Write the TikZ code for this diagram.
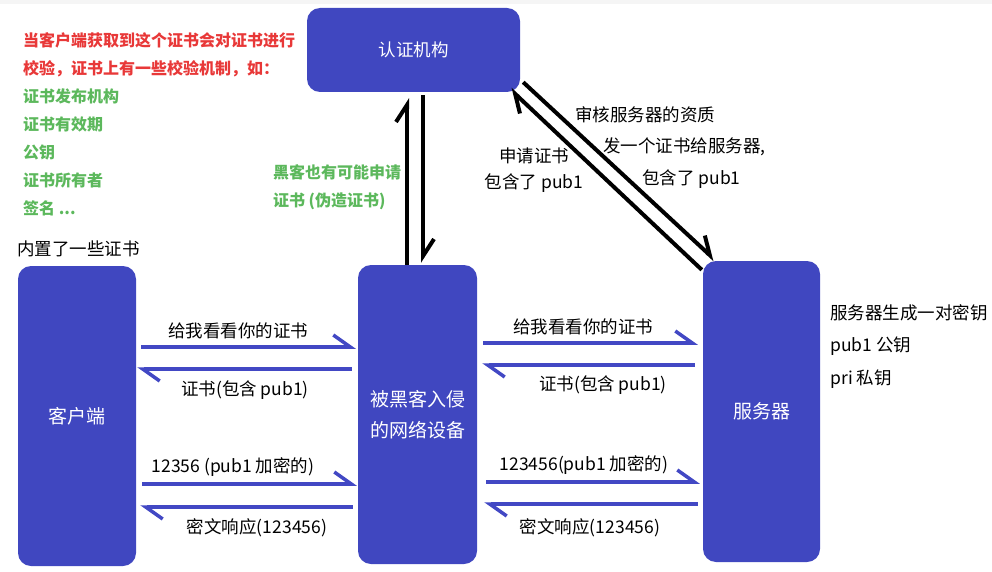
\documentclass[tikz,border=0pt]{standalone}
\usepackage{fontspec}
\setmainfont{Noto Sans CJK SC}
\usetikzlibrary{arrows.meta,positioning,calc}
\definecolor{boxblue}{RGB}{64,71,192}
\definecolor{msgblue}{RGB}{66,72,196}
\definecolor{notered}{RGB}{232,56,56}
\definecolor{notegreen}{RGB}{92,184,92}

\begin{document}
\begin{tikzpicture}[x=1pt, y=-1pt,
  box/.style={fill=boxblue, rounded corners=13pt, text=white, align=center,
    font=\fontsize{19}{31}\selectfont},
  msg/.style={-{Straight Barb[harpoon, length=17pt, width=24pt]}, line width=3.5pt, msgblue},
  cert/.style={-{Straight Barb[harpoon, length=17pt, width=22pt]}, line width=4pt},
  lbl/.style={font=\fontsize{17.5}{26}\selectfont, inner sep=0pt, text=black},
  hint/.style={font=\fontsize{16}{28}\selectfont\bfseries, inner sep=0pt, align=left}
]
\useasboundingbox (0,0) rectangle (992,572);
\fill[gray!8] (0,0) rectangle (992,4);

\node[box, minimum width=118pt, minimum height=300pt] (client) at (77,416) {客户端};
\node[box, minimum width=119pt, minimum height=299pt] (device) at (417.5,414.5) {被黑客入侵\\的网络设备};
\node[box, minimum width=117pt, minimum height=301pt] (server) at (761.5,411.5) {服务器};
\node[box, minimum width=213pt, minimum height=84pt,
  font=\fontsize{17.5}{21}\selectfont] (ca) at (413.5,50) {认证机构};

% notes
\node[hint, anchor=north west] (check) at (23,32) {\textcolor{notered}{当客户端获取到这个证书会对证书进行}\\
  \textcolor{notered}{校验，证书上有一些校验机制，如：}\\
  \textcolor{notegreen}{证书发布机构}\\
  \textcolor{notegreen}{证书有效期}\\
  \textcolor{notegreen}{公钥}\\
  \textcolor{notegreen}{证书所有者}\\
  \textcolor{notegreen}{签名 ...}};
\node[lbl, anchor=south west] (builtin) at ([xshift=-1pt, yshift=9pt]client.north west) {内置了一些证书};
\node[lbl, align=left, font=\fontsize{17.5}{32.5}\selectfont, anchor=north west] (keys)
  at ([xshift=10pt, yshift=-43.5pt]server.north east) {服务器生成一对密钥\\pub1 公钥\\pri 私钥};

% client <-> device
\coordinate (a1) at (0,347); \coordinate (a2) at (0,369);
\coordinate (a3) at (0,484); \coordinate (a4) at (0,507);
\draw[msg, shorten <=5pt, shorten >=2pt] (client.east |- a1) -- (device.west |- a1)
  node[midway, above=6pt, xshift=-9pt, lbl] {给我看看你的证书};
\draw[msg, shorten <=6pt, shorten >=1pt] (device.west |- a2) -- (client.east |- a2)
  node[midway, below=10pt, xshift=-2pt, lbl] {证书(包含 pub1)};
\draw[msg, shorten <=6pt, shorten >=1pt] (client.east |- a3) -- (device.west |- a3)
  node[midway, above=6pt, xshift=-14pt, lbl] {12356 (pub1 加密的)};
\draw[msg, shorten <=5pt, shorten >=4pt] (device.west |- a4) -- (client.east |- a4)
  node[midway, below=10pt, xshift=10pt, lbl] {密文响应(123456)};

% device <-> server
\coordinate (b1) at (0,343); \coordinate (b2) at (0,365);
\coordinate (b3) at (0,482); \coordinate (b4) at (0,504);
\draw[msg, shorten <=6pt, shorten >=5pt] (device.east |- b1) -- (server.west |- b1)
  node[midway, above=6pt, xshift=-7pt, lbl] {给我看看你的证书};
\draw[msg, shorten <=8pt, shorten >=5pt] (server.west |- b2) -- (device.east |- b2)
  node[midway, below=9pt, xshift=13pt, lbl] {证书(包含 pub1)};
\draw[msg, shorten <=9pt, shorten >=3pt] (device.east |- b3) -- (server.west |- b3)
  node[midway, above=6pt, xshift=-6pt, lbl] {123456(pub1 加密的)};
\draw[msg, shorten <=5pt, shorten >=7pt] (server.west |- b4) -- (device.east |- b4)
  node[midway, below=13pt, lbl] {密文响应(123456)};

% certificate authority
\draw[cert, shorten >=6pt] ([xshift=-10.5pt]device.north) -- ([xshift=-10.5pt]device.north |- ca.south)
  node[pos=0.45, left=4pt, hint, text=notegreen] {黑客也有可能申请\\证书 (伪造证书)};
\draw[cert, shorten <=3pt, shorten >=2pt] ([xshift=5.5pt]device.north |- ca.south) -- ([xshift=5.5pt]device.north);
\draw[cert] ([xshift=3pt, yshift=10pt]ca.south east) -- ([xshift=12pt, yshift=1pt]server.north west);
\draw[cert] ([xshift=-1pt, yshift=-9pt]server.north west) -- ([xshift=-10pt, yshift=3pt]ca.south east);
\node[lbl, align=center] (req) at (534,170) {申请证书\\包含了 pub1};
\node[lbl, align=left, font=\fontsize{17.5}{31.5}\selectfont, anchor=north west] (issue) at (575,106)
  {审核服务器的资质\\\hspace*{28pt}发一个证书给服务器,\\\hspace*{67pt}包含了 pub1};
\end{tikzpicture}
\end{document}
